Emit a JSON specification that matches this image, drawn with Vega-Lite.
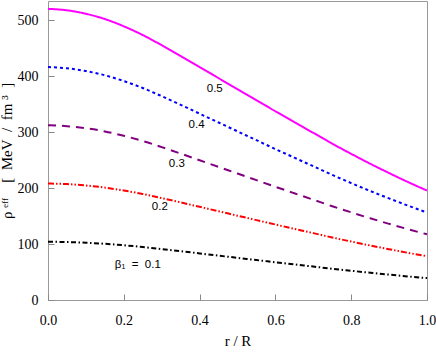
{
  "$schema": "https://vega.github.io/schema/vega-lite/v6.json",
  "width": 379,
  "height": 299,
  "autosize": "none",
  "padding": {"left": 48, "top": 1, "right": 9, "bottom": 54},
  "background": "white",
  "config": {
    "view": {"stroke": "#999", "strokeWidth": 1},
    "axis": {
      "domain": false, "grid": false, "labelFlush": false,
      "labelFont": "Times New Roman, Liberation Serif, serif", "labelFontSize": 14, "labelColor": "#000",
      "titleFont": "Times New Roman, Liberation Serif, serif", "titleFontSize": 15, "titleFontWeight": "normal", "titleColor": "#000",
      "tickColor": "#888", "tickWidth": 1
    }
  },
  "datasets": {
    "curves": [
      {"r": 0.00, "b5": 520.0, "b4": 416.0, "b3": 312.0, "b2": 208.0, "b1": 104.0},
      {"r": 0.05, "b5": 517.4, "b4": 413.9, "b3": 310.4, "b2": 207.0, "b1": 103.5},
      {"r": 0.10, "b5": 511.2, "b4": 408.9, "b3": 306.7, "b2": 204.5, "b1": 102.2},
      {"r": 0.15, "b5": 501.8, "b4": 401.4, "b3": 301.1, "b2": 200.7, "b1": 100.4},
      {"r": 0.20, "b5": 488.8, "b4": 391.0, "b3": 293.3, "b2": 195.5, "b1": 97.8},
      {"r": 0.25, "b5": 473.2, "b4": 378.6, "b3": 283.9, "b2": 189.3, "b1": 94.6},
      {"r": 0.30, "b5": 455.0, "b4": 364.0, "b3": 273.0, "b2": 182.0, "b1": 91.0},
      {"r": 0.35, "b5": 435.8, "b4": 348.6, "b3": 261.5, "b2": 174.3, "b1": 87.2},
      {"r": 0.40, "b5": 416.0, "b4": 332.8, "b3": 249.6, "b2": 166.4, "b1": 83.2},
      {"r": 0.45, "b5": 396.2, "b4": 317.0, "b3": 237.7, "b2": 158.5, "b1": 79.2},
      {"r": 0.50, "b5": 376.5, "b4": 301.2, "b3": 225.9, "b2": 150.6, "b1": 75.3},
      {"r": 0.55, "b5": 356.7, "b4": 285.4, "b3": 214.0, "b2": 142.7, "b1": 71.3},
      {"r": 0.60, "b5": 337.0, "b4": 269.6, "b3": 202.2, "b2": 134.8, "b1": 67.4},
      {"r": 0.65, "b5": 317.7, "b4": 254.2, "b3": 190.6, "b2": 127.1, "b1": 63.5},
      {"r": 0.70, "b5": 298.5, "b4": 238.8, "b3": 179.1, "b2": 119.4, "b1": 59.7},
      {"r": 0.75, "b5": 279.2, "b4": 223.4, "b3": 167.5, "b2": 111.7, "b1": 55.8},
      {"r": 0.80, "b5": 261.0, "b4": 208.8, "b3": 156.6, "b2": 104.4, "b1": 52.2},
      {"r": 0.85, "b5": 243.4, "b4": 194.7, "b3": 146.0, "b2": 97.3, "b1": 48.7},
      {"r": 0.90, "b5": 226.7, "b4": 181.4, "b3": 136.0, "b2": 90.7, "b1": 45.3},
      {"r": 0.95, "b5": 210.6, "b4": 168.5, "b3": 126.4, "b2": 84.2, "b1": 42.1},
      {"r": 1.00, "b5": 195.5, "b4": 156.4, "b3": 117.3, "b2": 78.2, "b1": 39.1}
    ],
    "labels": [
      {"r": 0.44, "v": 376, "t": "0.5"},
      {"r": 0.392, "v": 312, "t": "0.4"},
      {"r": 0.34, "v": 242, "t": "0.3"},
      {"r": 0.295, "v": 166, "t": "0.2"},
      {"r": 0.237, "v": 62, "t": "β₁\u00a0\u00a0=\u00a0\u00a00.1"}
    ]
  },
  "layer": [
    {
      "data": {"name": "curves"},
      "transform": [{"fold": ["b1", "b2", "b3", "b4", "b5"], "as": ["beta", "rho"]}],
      "mark": {"type": "line", "interpolate": "monotone"},
      "encoding": {
        "x": {"field": "r", "type": "quantitative", "scale": {"domain": [0, 1], "nice": false, "zero": false},
              "axis": {"orient": "bottom", "values": [0, 0.2, 0.4, 0.6, 0.8, 1], "format": ".1f", "ticks": true, "tickSize": 6, "offset": -6, "labelPadding": 13, "title": "r / R", "titlePadding": 6}},
        "y": {"field": "rho", "type": "quantitative", "scale": {"domain": [0, 534], "nice": false, "zero": true},
              "axis": {"orient": "left", "values": [0, 100, 200, 300, 400, 500], "ticks": true, "tickSize": 6, "offset": -6, "labelPadding": 10, "title": "ρ\u00a0ᵉᶠᶠ\u00a0\u00a0\u00a0\u00a0[\u00a0\u00a0MeV\u00a0\u00a0/\u00a0\u00a0fm\u00a0³\u00a0\u00a0]", "titlePadding": 3}},
        "color": {"field": "beta", "type": "nominal", "scale": {"domain": ["b1", "b2", "b3", "b4", "b5"], "range": ["#000000", "#ff0000", "#800080", "#0000ff", "#ff00ff"]}, "legend": null},
        "strokeDash": {"field": "beta", "type": "nominal", "scale": {"domain": ["b1", "b2", "b3", "b4", "b5"], "range": [[5, 2.5, 1.5, 2.5], [6, 2, 1.5, 2, 1.5, 2], [8, 6], [3, 3], [1, 0]]}, "legend": null},
        "strokeWidth": {"field": "beta", "type": "nominal", "scale": {"domain": ["b1", "b2", "b3", "b4", "b5"], "range": [2, 2, 2.2, 2.2, 1.3]}, "legend": null}
      }
    },
    {
      "data": {"name": "labels"},
      "mark": {"type": "text", "font": "Liberation Sans", "fontSize": 11.5, "color": "#000"},
      "encoding": {
        "x": {"field": "r", "type": "quantitative"},
        "y": {"field": "v", "type": "quantitative"},
        "text": {"field": "t", "type": "nominal"}
      }
    }
  ]
}
